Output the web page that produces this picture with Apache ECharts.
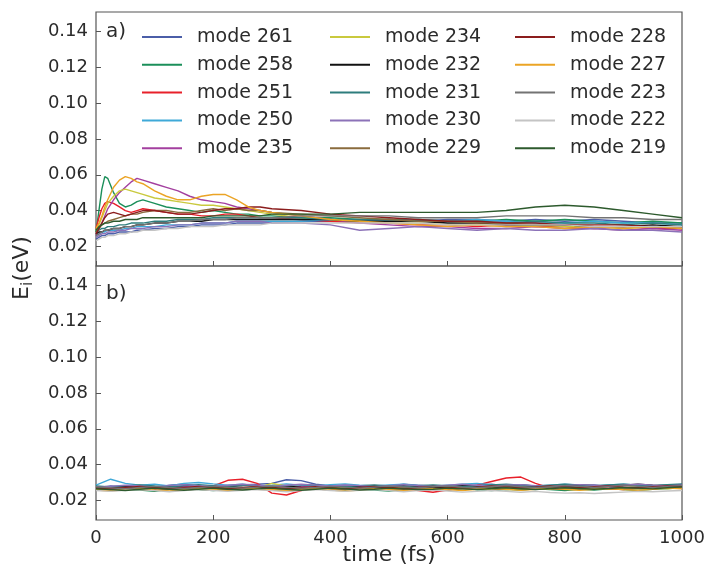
<!DOCTYPE html>
<html>
<head>
<meta charset="utf-8">
<script src="https://cdn.jsdelivr.net/npm/echarts@6/dist/echarts.min.js"></script>
<style>
html,body{margin:0;padding:0;background:#fff;}
#chart{width:707px;height:573px;}
</style>
</head>
<body>
<div id="chart"></div>
<script>
// ---------------- DATA ----------------
const modeNames = ['mode 261','mode 258','mode 251','mode 250','mode 235',
                   'mode 234','mode 232','mode 231','mode 230','mode 229',
                   'mode 228','mode 227','mode 223','mode 222','mode 219'];
const yTicks = [0.02,0.04,0.06,0.08,0.10,0.12,0.14];
const xTicks = [0,200,400,600,800,1000];

// panel a) time grid (fs)
const timeA = [0,5,10,15,20,30,40,50,60,70,80,100,120,140,160,180,200,220,240,260,280,300,350,400,450,500,550,600,650,700,750,800,850,900,950,1000];
const a261 = [.024,.025,.026,.026,.027,.027,.028,.028,.028,.029,.029,.030,.030,.031,.031,.032,.032,.032,.033,.033,.033,.033,.034,.034,.034,.035,.034,.035,.035,.034,.035,.034,.035,.034,.033,.033];
const a258 = [.028,.040,.052,.059,.058,.050,.044,.042,.043,.045,.046,.044,.042,.041,.040,.039,.040,.039,.038,.038,.037,.037,.036,.036,.035,.035,.035,.034,.034,.035,.034,.035,.034,.033,.034,.033];
const a251 = [.030,.036,.041,.044,.045,.044,.042,.040,.039,.040,.041,.040,.039,.038,.038,.037,.037,.038,.038,.037,.036,.036,.035,.034,.033,.033,.032,.032,.031,.032,.031,.031,.030,.031,.030,.030];
const a250 = [.026,.027,.028,.028,.029,.029,.029,.030,.030,.031,.031,.031,.032,.032,.032,.033,.033,.033,.034,.034,.034,.034,.034,.035,.034,.034,.035,.034,.035,.034,.033,.033,.034,.033,.033,.032];
const a235 = [.026,.030,.033,.037,.041,.046,.050,.053,.056,.058,.057,.055,.053,.051,.048,.046,.045,.044,.042,.041,.040,.039,.037,.035,.033,.032,.031,.031,.030,.030,.031,.030,.030,.029,.030,.029];
const a234 = [.029,.032,.036,.040,.044,.048,.051,.052,.051,.050,.049,.047,.046,.045,.044,.043,.043,.042,.041,.040,.039,.038,.036,.035,.034,.033,.033,.032,.032,.031,.032,.031,.031,.030,.031,.031];
const a232 = [.027,.028,.028,.029,.029,.030,.030,.031,.031,.032,.032,.033,.033,.034,.034,.034,.035,.035,.035,.035,.035,.035,.035,.035,.034,.034,.034,.033,.033,.032,.032,.032,.031,.031,.032,.031];
const a231 = [.028,.029,.030,.030,.031,.031,.032,.032,.033,.033,.033,.034,.034,.035,.035,.035,.036,.036,.036,.036,.036,.036,.036,.035,.035,.035,.034,.034,.034,.033,.034,.033,.033,.032,.033,.032];
const a230 = [.025,.026,.027,.027,.028,.028,.029,.029,.030,.030,.030,.031,.031,.032,.032,.033,.033,.033,.034,.034,.034,.033,.033,.032,.029,.030,.031,.030,.029,.030,.029,.029,.030,.029,.029,.028];
const a229 = [.028,.030,.032,.033,.034,.035,.036,.037,.038,.038,.039,.040,.040,.039,.039,.040,.041,.040,.041,.040,.040,.039,.038,.037,.036,.035,.034,.034,.033,.033,.032,.032,.031,.031,.031,.030];
const a228 = [.027,.030,.033,.036,.038,.039,.038,.037,.038,.039,.040,.040,.039,.038,.038,.039,.040,.041,.041,.042,.042,.041,.040,.038,.037,.036,.035,.034,.034,.033,.033,.032,.032,.032,.031,.031];
const a227 = [.030,.033,.037,.042,.046,.053,.057,.059,.058,.056,.055,.051,.048,.046,.046,.048,.049,.049,.046,.042,.040,.039,.037,.035,.034,.033,.032,.031,.032,.031,.031,.030,.031,.030,.031,.030];
const a223 = [.026,.027,.028,.029,.029,.030,.030,.031,.031,.032,.032,.033,.033,.034,.034,.035,.035,.035,.036,.036,.036,.036,.037,.037,.037,.037,.036,.036,.036,.037,.037,.037,.036,.036,.035,.035];
const a222 = [.023,.024,.025,.025,.026,.026,.027,.027,.028,.028,.029,.029,.030,.030,.031,.031,.031,.032,.032,.032,.032,.033,.033,.033,.033,.033,.033,.032,.032,.032,.032,.032,.031,.031,.031,.031];
const a219 = [.029,.031,.032,.033,.033,.034,.034,.035,.035,.035,.036,.036,.036,.036,.036,.036,.037,.037,.037,.037,.037,.038,.038,.038,.039,.039,.039,.039,.039,.040,.042,.043,.042,.040,.038,.036];

// panel b) time grid (fs)
const timeB = [0,25,50,75,100,125,150,175,200,225,250,275,300,325,350,375,400,425,450,475,500,525,550,575,600,625,650,675,700,725,750,775,800,825,850,875,900,925,950,975,1000];
const b261 = [.0270,.0280,.0275,.0282,.0270,.0285,.0290,.0280,.0276,.0281,.0286,.0290,.0295,.0315,.0310,.0290,.0281,.0285,.0280,.0276,.0280,.0290,.0285,.0280,.0272,.0280,.0285,.0290,.0281,.0276,.0280,.0272,.0276,.0280,.0286,.0276,.0268,.0272,.0280,.0285,.0282];
const b258 = [.0260,.0255,.0262,.0258,.0250,.0262,.0268,.0260,.0255,.0262,.0258,.0265,.0260,.0255,.0262,.0268,.0260,.0256,.0262,.0258,.0252,.0260,.0265,.0258,.0262,.0268,.0260,.0255,.0262,.0258,.0264,.0260,.0255,.0262,.0258,.0265,.0260,.0256,.0262,.0266,.0270];
const b251 = [.0265,.0270,.0260,.0272,.0268,.0262,.0270,.0275,.0280,.0312,.0318,.0295,.0240,.0230,.0255,.0270,.0265,.0272,.0260,.0268,.0275,.0265,.0255,.0245,.0258,.0270,.0285,.0305,.0325,.0330,.0295,.0270,.0262,.0268,.0275,.0265,.0260,.0270,.0265,.0272,.0268];
const b250 = [.0285,.0318,.0295,.0285,.0290,.0280,.0295,.0300,.0292,.0285,.0290,.0280,.0285,.0292,.0285,.0280,.0288,.0292,.0285,.0280,.0286,.0290,.0282,.0278,.0285,.0290,.0295,.0288,.0282,.0286,.0280,.0285,.0290,.0284,.0280,.0286,.0290,.0285,.0280,.0284,.0288];
const b235 = [.0270,.0265,.0275,.0268,.0262,.0270,.0278,.0270,.0265,.0272,.0268,.0275,.0265,.0270,.0278,.0272,.0265,.0270,.0276,.0270,.0265,.0272,.0278,.0270,.0265,.0272,.0268,.0274,.0270,.0266,.0272,.0278,.0270,.0265,.0272,.0268,.0274,.0270,.0265,.0272,.0270];
const b234 = [.0275,.0268,.0262,.0270,.0275,.0268,.0260,.0270,.0278,.0272,.0265,.0270,.0295,.0280,.0268,.0262,.0270,.0275,.0268,.0262,.0270,.0276,.0268,.0262,.0270,.0275,.0268,.0260,.0268,.0275,.0270,.0262,.0268,.0275,.0270,.0264,.0270,.0276,.0270,.0265,.0272];
const b232 = [.0265,.0270,.0275,.0268,.0272,.0278,.0270,.0265,.0272,.0278,.0272,.0268,.0275,.0280,.0272,.0268,.0274,.0280,.0275,.0270,.0276,.0280,.0274,.0270,.0276,.0282,.0278,.0272,.0278,.0284,.0280,.0275,.0280,.0286,.0282,.0278,.0284,.0290,.0285,.0282,.0288];
const b231 = [.0280,.0275,.0282,.0286,.0280,.0275,.0282,.0288,.0282,.0278,.0284,.0280,.0276,.0282,.0288,.0284,.0280,.0276,.0282,.0286,.0280,.0276,.0282,.0286,.0282,.0276,.0280,.0286,.0290,.0284,.0280,.0285,.0290,.0286,.0282,.0286,.0290,.0286,.0282,.0288,.0292];
const b230 = [.0272,.0278,.0285,.0280,.0275,.0282,.0288,.0282,.0276,.0284,.0290,.0284,.0278,.0284,.0290,.0285,.0280,.0286,.0282,.0276,.0282,.0288,.0282,.0278,.0284,.0290,.0284,.0278,.0284,.0288,.0282,.0276,.0282,.0288,.0284,.0278,.0284,.0290,.0285,.0280,.0286];
const b229 = [.0262,.0258,.0265,.0260,.0255,.0262,.0268,.0262,.0256,.0262,.0268,.0262,.0258,.0264,.0270,.0264,.0258,.0264,.0270,.0264,.0258,.0262,.0268,.0264,.0258,.0264,.0270,.0265,.0260,.0266,.0270,.0264,.0260,.0266,.0272,.0266,.0262,.0268,.0272,.0268,.0272];
const b228 = [.0270,.0265,.0272,.0278,.0272,.0266,.0272,.0278,.0272,.0266,.0272,.0278,.0272,.0266,.0272,.0276,.0270,.0265,.0272,.0278,.0272,.0266,.0272,.0278,.0274,.0268,.0274,.0280,.0276,.0270,.0274,.0280,.0275,.0270,.0276,.0280,.0274,.0270,.0276,.0280,.0278];
const b227 = [.0258,.0252,.0260,.0265,.0258,.0252,.0258,.0265,.0260,.0254,.0260,.0266,.0260,.0254,.0260,.0265,.0258,.0252,.0258,.0264,.0260,.0254,.0260,.0266,.0260,.0255,.0262,.0268,.0262,.0256,.0262,.0268,.0262,.0256,.0262,.0266,.0260,.0256,.0262,.0268,.0264];
const b223 = [.0275,.0270,.0265,.0272,.0278,.0272,.0266,.0272,.0278,.0274,.0268,.0274,.0280,.0274,.0268,.0272,.0278,.0274,.0268,.0274,.0280,.0275,.0270,.0276,.0280,.0274,.0270,.0276,.0282,.0276,.0270,.0276,.0282,.0278,.0272,.0278,.0284,.0278,.0272,.0278,.0282];
const b222 = [.0255,.0250,.0256,.0260,.0254,.0248,.0254,.0260,.0255,.0250,.0256,.0260,.0254,.0248,.0254,.0260,.0255,.0250,.0256,.0260,.0254,.0248,.0254,.0258,.0252,.0246,.0250,.0255,.0250,.0245,.0250,.0244,.0240,.0242,.0238,.0242,.0246,.0250,.0248,.0252,.0255];
const b219 = [.0265,.0260,.0255,.0262,.0268,.0262,.0256,.0262,.0268,.0262,.0258,.0264,.0268,.0262,.0256,.0262,.0268,.0264,.0258,.0262,.0268,.0264,.0260,.0262,.0268,.0264,.0260,.0266,.0270,.0265,.0260,.0266,.0270,.0266,.0262,.0266,.0272,.0268,.0264,.0270,.0275];

const panelA = [a261,a258,a251,a250,a235,a234,a232,a231,a230,a229,a228,a227,a223,a222,a219];
const panelB = [b261,b258,b251,b250,b235,b234,b232,b231,b230,b229,b228,b227,b223,b222,b219];

// ---------------- STYLE ----------------
const modeColors = ['#4b5ea8','#1b8f5a','#e8202a','#3fa9d8','#a33f9f',
                    '#c9c93e','#111111','#2e7d7d','#8c72b8','#8a6b3d',
                    '#8b1d1d','#eba425','#737373','#c4c4c4','#2d5a2d'];
const FONT = 'DejaVu Sans';
const TXT = '#2b2b2b';

const chart = echarts.init(document.getElementById('chart'), null, {renderer:'canvas'});

function mkX(idx, showLabels){
  return {
    type:'value', gridIndex:idx, min:0, max:1000, interval:200,
    axisLine:{show:false},
    axisTick:{show:true, inside:true, length:5, lineStyle:{color:'#555', width:1}},
    axisLabel:{show:showLabels, fontFamily:FONT, fontSize:18, color:TXT, margin:9,
               formatter:v=>String(v)},
    splitLine:{show:false}
  };
}
function mkY(idx){
  return {
    type:'value', gridIndex:idx, min:0.009, max:0.151,
    axisLine:{show:false},
    axisTick:{show:true, inside:true, length:5, customValues:yTicks, lineStyle:{color:'#555', width:1}},
    axisLabel:{show:true, customValues:yTicks, fontFamily:FONT, fontSize:18, color:TXT, margin:8,
               formatter:v=>v.toFixed(2)},
    splitLine:{show:false}
  };
}

const series = [];
modeNames.forEach((name,i)=>{
  series.push({
    name:name, type:'line', xAxisIndex:0, yAxisIndex:0, showSymbol:false, symbol:'none',
    lineStyle:{width:1.4, color:modeColors[i]}, itemStyle:{color:modeColors[i]},
    data: timeA.map((t,j)=>[t, panelA[i][j]]), z:2+i
  });
});
modeNames.forEach((name,i)=>{
  series.push({
    name:name, type:'line', xAxisIndex:1, yAxisIndex:1, showSymbol:false, symbol:'none',
    lineStyle:{width:1.4, color:modeColors[i]}, itemStyle:{color:modeColors[i]},
    data: timeB.map((t,j)=>[t, panelB[i][j]]), z:2+i
  });
});

function mkLegend(left, names){
  return {
    orient:'vertical', left:left, top:27, padding:0,
    data:names, icon:'rect', itemWidth:40, itemHeight:2, itemGap:7.8,
    selectedMode:false,
    textStyle:{fontFamily:FONT, fontSize:19, color:TXT, lineHeight:20, padding:[0,0,0,10]}
  };
}

chart.setOption({
  animation:false,
  backgroundColor:'#fff',
  grid:[
    {left:96, top:12, width:586, height:254, show:true, borderColor:'#555', borderWidth:1.2,
     backgroundColor:'transparent', containLabel:false, outerBoundsMode:'none'},
    {left:96, top:266, width:586, height:254, show:true, borderColor:'#555', borderWidth:1.2,
     backgroundColor:'transparent', containLabel:false, outerBoundsMode:'none'}
  ],
  xAxis:[mkX(0,false), mkX(1,true)],
  yAxis:[mkY(0), mkY(1)],
  legend:[
    mkLegend(142, modeNames.slice(0,5)),
    mkLegend(330, modeNames.slice(5,10)),
    mkLegend(515, modeNames.slice(10,15))
  ],
  graphic:[
    {type:'text', left:106, top:22, style:{text:'a)', font:'20px "DejaVu Sans"', fill:TXT}},
    {type:'text', left:106, top:284, style:{text:'b)', font:'20px "DejaVu Sans"', fill:TXT}},
    {type:'text', x:389, y:555, style:{text:'time (fs)', font:'22px "DejaVu Sans"', fill:TXT, align:'center', verticalAlign:'middle'}},
    {type:'text', x:22, y:268, rotation:Math.PI/2,
     style:{text:'{e|E}{s|i}{e|(eV)}', align:'center', verticalAlign:'middle', fill:TXT,
       rich:{
         e:{fontFamily:FONT, fontSize:22, fill:TXT},
         s:{fontFamily:FONT, fontSize:15, fill:TXT, padding:[12,0,0,0]}
       }}}
  ],
  series:series
});
</script>
</body>
</html>
